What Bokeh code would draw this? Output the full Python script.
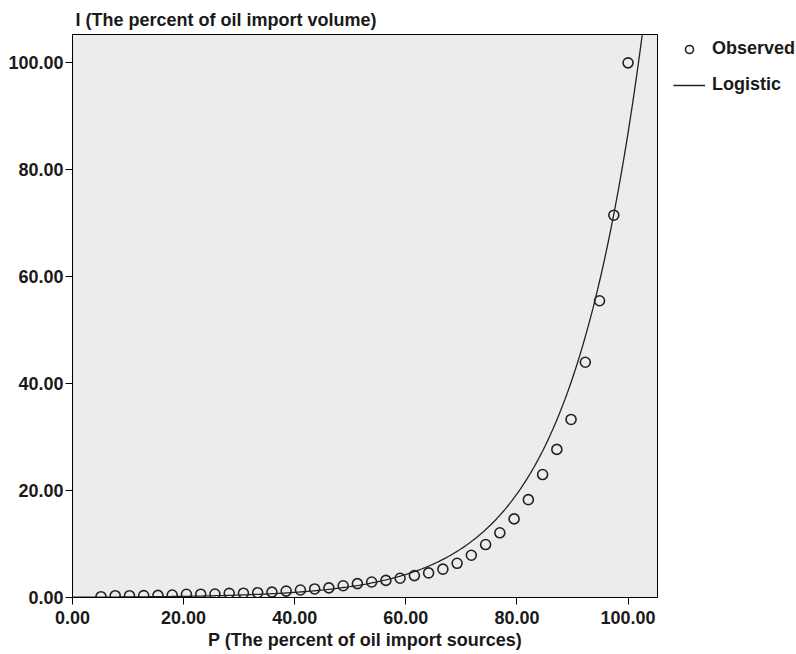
import numpy as np
from bokeh.plotting import figure
from bokeh.layouts import row
from bokeh.models import Range1d, Legend, LegendItem, PrintfTickFormatter, ColumnDataSource
from bokeh.embed import file_html
from bokeh.resources import INLINE

# ---- data ----
P_observed = [5.13, 7.69, 10.26, 12.82, 15.38, 17.95, 20.51, 23.08, 25.64, 28.21,
              30.77, 33.33, 35.90, 38.46, 41.03, 43.59, 46.15, 48.72, 51.28, 53.85,
              56.41, 58.97, 61.54, 64.10, 66.67, 69.23, 71.79, 74.36, 76.92, 79.49,
              82.05, 84.62, 87.18, 89.74, 92.31, 94.87, 97.44, 100.00]
I_observed = [0.15, 0.34, 0.34, 0.36, 0.40, 0.47, 0.60, 0.62, 0.65, 0.78,
              0.80, 0.90, 1.00, 1.20, 1.40, 1.60, 1.80, 2.20, 2.60, 2.90,
              3.20, 3.60, 4.10, 4.60, 5.30, 6.40, 7.90, 9.90, 12.10, 14.70,
              18.30, 23.00, 27.70, 33.30, 44.00, 55.50, 71.50, 100.00]

# Logistic model (SPSS curve estimation form, no upper bound): I = 1 / (b0 * b1**P)
logistic_b0 = 20.9
logistic_b1 = 0.9277

x_ticks = [0, 20, 40, 60, 80, 100]
y_ticks = [0, 20, 40, 60, 80, 100]
legend_labels = ["Observed", "Logistic"]

FONT = "Liberation Sans"
FS = "18px"
INK = "#1a1a1a"
MARK = "#222222"

H = 654
W_MAIN, W_LEG = 660, 136
FRAME_L, FRAME_T, FRAME_R, FRAME_B = 72, 34, 657, 597

p = figure(width=W_MAIN, height=H, output_backend="svg", toolbar_location=None,
           x_range=Range1d(0, 105.3), y_range=Range1d(0, 105.3),
           min_border_left=FRAME_L, min_border_right=W_MAIN - FRAME_R,
           min_border_top=FRAME_T, min_border_bottom=H - FRAME_B,
           background_fill_color="#ececec", border_fill_color="white",
           title="I (The percent of oil import volume)")

p.outline_line_color = "black"
p.outline_line_width = 1
p.grid.visible = False

p.title.text_font = FONT
p.title.text_font_size = FS
p.title.text_font_style = "bold"
p.title.align = "left"
p.title.offset = 3
p.title.standoff = 10
p.title.text_color = INK

for ax in (p.xaxis[0], p.yaxis[0]):
    ax.major_label_text_font = FONT
    ax.major_label_text_font_size = FS
    ax.major_label_text_font_style = "bold"
    ax.major_label_text_color = INK
    ax.axis_label_text_font = FONT
    ax.axis_label_text_font_size = FS
    ax.axis_label_text_font_style = "bold"
    ax.axis_label_text_color = INK
    ax.major_tick_out = 7
    ax.major_tick_in = 0
    ax.minor_tick_out = 0
    ax.minor_tick_in = 0
    ax.axis_line_color = "black"
    ax.major_tick_line_color = "black"
    ax.formatter = PrintfTickFormatter(format="%.2f")

p.xaxis.ticker = x_ticks
p.yaxis.ticker = y_ticks
p.xaxis.axis_label = "P (The percent of oil import sources)"
p.xaxis.major_label_standoff = 6
p.xaxis.axis_label_standoff = 3
p.yaxis.major_label_standoff = 2

# fitted curve
xs = np.linspace(0, 105.3, 400)
ys = 1.0 / (logistic_b0 * np.power(logistic_b1, xs))
curve_src = ColumnDataSource(dict(x=xs, y=ys))
p.line("x", "y", source=curve_src, line_color=MARK, line_width=1.3)

obs_src = ColumnDataSource(dict(x=P_observed, y=I_observed))
p.scatter("x", "y", source=obs_src, marker="circle", size=10,
          fill_color=None, line_color=MARK, line_width=1.6)

# legend panel to the right of the plot (its frame is aligned with the plot's)
LEG_MARGIN = 4
q = figure(width=W_LEG, height=H, output_backend="svg", toolbar_location=None,
           x_axis_location=None, y_axis_location=None,
           min_border_left=673 - W_MAIN - LEG_MARGIN, min_border_top=FRAME_T,
           min_border_right=0, min_border_bottom=H - FRAME_B,
           x_range=Range1d(0, 1), y_range=Range1d(0, 1),
           background_fill_color="white", border_fill_color="white")
q.outline_line_color = None
q.grid.visible = False
# key-only renderers: their single sample lies outside the (clipped) legend frame
leg_obs = q.scatter(x=[9], y=[9], marker="circle", size=9,
                    fill_color=None, line_color=MARK, line_width=1.6)
leg_fit = q.line(x=[9, 10], y=[9, 9], line_color=MARK, line_width=1.3)

legend = Legend(items=[LegendItem(label=legend_labels[0], renderers=[leg_obs]),
                       LegendItem(label=legend_labels[1], renderers=[leg_fit])],
                location="top_left", orientation="vertical",
                padding=0, margin=LEG_MARGIN, spacing=15,
                glyph_width=32, glyph_height=20, label_height=20,
                label_standoff=7,
                label_text_font=FONT, label_text_font_size=FS,
                label_text_font_style="bold", label_text_color=INK,
                border_line_color=None, background_fill_alpha=0)
q.add_layout(legend, "center")

layout = row(p, q, spacing=0)
open("out.html", "w").write(file_html(layout, INLINE))
